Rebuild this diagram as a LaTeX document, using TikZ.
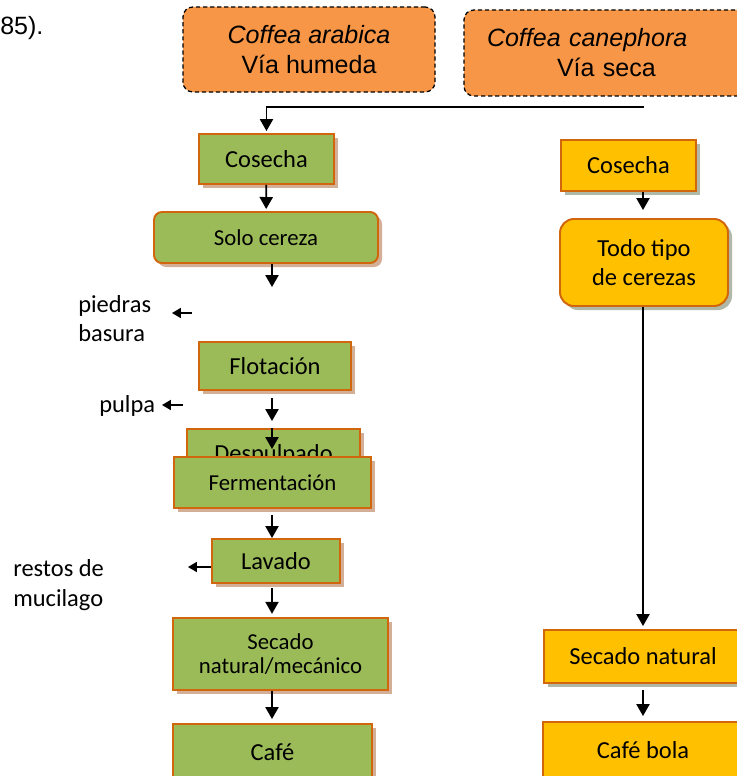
\documentclass[tikz,border=0pt]{standalone}
\usepackage{fontspec}
\setmainfont{Carlito}
\newfontfamily\arialfont{Liberation Sans}
\usetikzlibrary{arrows.meta,shadows}
\definecolor{leaf}{HTML}{9BBB59}
\definecolor{gold}{HTML}{FFC000}
\definecolor{peach}{HTML}{F79646}
\definecolor{rim}{HTML}{D2660C}
\definecolor{shadowtan}{HTML}{CFA68C}
\definecolor{shadowsage}{HTML}{A7B09D}

\begin{document}
\begin{tikzpicture}[
  species/.style={draw=black, dash pattern=on 3pt off 2pt, line width=0.9pt, rounded corners=7pt, fill=peach, font=\arialfont\fontsize{17.8}{21.3}\selectfont},
  wetstep/.style={draw=rim, line width=1.4pt, fill=leaf, align=center, font=\fontsize{17.4}{20.5}\selectfont, drop shadow={fill=shadowtan, opacity=.9, shadow xshift=0.1cm, shadow yshift=-0.1cm}},
  drystep/.style={draw=rim, line width=1.4pt, fill=gold, align=center, font=\fontsize{17.4}{20.6}\selectfont, drop shadow={fill=shadowsage, opacity=.9, shadow xshift=0.1cm, shadow yshift=-0.1cm}},
  smallfont/.style={font=\fontsize{16.2}{17}\selectfont},
  residue/.style={align=left, anchor=west, inner sep=0pt, font=\fontsize{17.4}{20.5}\selectfont},
  arrow/.style={-{Triangle[length=3mm,width=3.3mm]}, line width=1.2pt},
  smallarrow/.style={-{Triangle[length=2.2mm,width=2.5mm]}, line width=1pt}
]
\useasboundingbox (0,0) rectangle (18.425,-19.4);
\clip (0,0) rectangle (18.425,-19.4);

\node[font=\arialfont\fontsize{17.8}{21}\selectfont, anchor=west, inner sep=0pt] (cite) at (0,-0.7) {85).};
\node[species, align=center, minimum width=6.3cm, minimum height=2.125cm] (arabica) at (7.725,-1.2375) {\textit{Coffea arabica}\\Vía humeda};
\node[species, align=left, text width=6.05cm, inner xsep=0.575cm, minimum height=2.15cm] (canephora) at (15.2,-1.325) {\textit{Coffea canephora}\\\hspace*{1.75cm}Vía seca};

\node[wetstep, minimum width=3.375cm, minimum height=1.25cm] (cosechaA) at (6.6625,-3.975) {Cosecha};
\node[wetstep, smallfont, rounded corners=0.2cm, minimum width=5.6cm, minimum height=1.275cm] (solo) at (6.65,-5.9375) {Solo cereza};
\node[residue] (piedras) at (1.95,-7.975) {piedras\\basura};
\node[wetstep, minimum width=3.8cm, minimum height=1.2cm] (flot) at (6.875,-9.15) {Flotación};
\node[residue] (pulpa) at (2.475,-10.15) {pulpa};
\node[wetstep, minimum width=4.325cm, minimum height=1.3cm] (desp) at (6.8375,-11.375) {Despulpado};
\node[wetstep, smallfont, minimum width=4.925cm, minimum height=1.275cm] (ferm) at (6.8125,-12.0625) {Fermentación};
\node[wetstep, minimum width=3.2cm, minimum height=1.1cm] (lavado) at (6.9,-14.025) {Lavado};
\node[residue, font=\fontsize{17.4}{21.3}\selectfont] (restos) at (0.325,-14.625) {restos de\\mucilago};
\node[wetstep, smallfont, minimum width=5.375cm, minimum height=1.8cm] (secadoA) at (7.0125,-16.35) {Secado\\natural/mecánico};
\node[wetstep, minimum width=4.975cm, minimum height=1.4cm] (cafe) at (6.8125,-18.8) {Café};

\node[drystep, minimum width=3.375cm, minimum height=1.275cm] (cosechaB) at (15.7125,-4.1375) {Cosecha};
\node[drystep, rounded corners=0.35cm, minimum width=4.2cm, minimum height=2.175cm] (todo) at (16.1,-6.5625) {Todo tipo\\de cerezas};
\node[drystep, minimum width=4.95cm, minimum height=1.325cm] (secadoB) at (16.075,-16.4125) {Secado natural};
\node[drystep, minimum width=5cm, minimum height=1.4cm] (cafebola) at (16.075,-18.75) {Café bola};

\coordinate (split) at (16.1,-2.675);
\coordinate (wetcol) at (6.8,0);
\coordinate (drycol) at (16.075,0);
\coordinate (sieve) at (6.8,-7.175);
\coordinate (stoneA) at (4.8,-7.825);
\coordinate (stoneB) at (4.3,-7.825);
\coordinate (pulpA) at (4.575,-10.125);
\coordinate (pulpB) at (4.05,-10.125);
\coordinate (rinse) at (4.7,-14.175);

\draw[arrow, shorten >=0.05cm] (split) -| (cosechaA);
\draw[arrow, shorten >=0.05cm] (cosechaA) -- (solo);
\draw[arrow] (solo.south -| sieve) -- (sieve);
\draw[smallarrow] (stoneA) -- (stoneB);
\draw[smallarrow] (pulpA) -- (pulpB);
\draw[arrow, shorten <=0.175cm, shorten >=0.175cm] (flot.south -| wetcol) -- (desp.north -| wetcol);
\draw[arrow, shorten >=0.175cm] (desp.north -| wetcol) -- (ferm.north -| wetcol);
\draw[arrow, shorten <=0.15cm] (ferm.south -| wetcol) -- (lavado.north -| wetcol);
\draw[smallarrow] (lavado.west |- rinse) -- (rinse);
\draw[arrow, shorten <=0.1cm, shorten >=0.08cm] (lavado.south -| wetcol) -- (secadoA.north -| wetcol);
\draw[arrow, shorten >=0.1cm] (secadoA.south -| wetcol) -- (cafe.north -| wetcol);

\draw[arrow, shorten >=0.2cm] (cosechaB.south -| drycol) -- (todo.north -| drycol);
\draw[arrow, shorten >=0.075cm] (todo.south -| drycol) -- (secadoB.north -| drycol);
\draw[arrow, shorten <=0.15cm, shorten >=0.125cm] (secadoB.south -| drycol) -- (cafebola.north -| drycol);
\end{tikzpicture}
\end{document}
